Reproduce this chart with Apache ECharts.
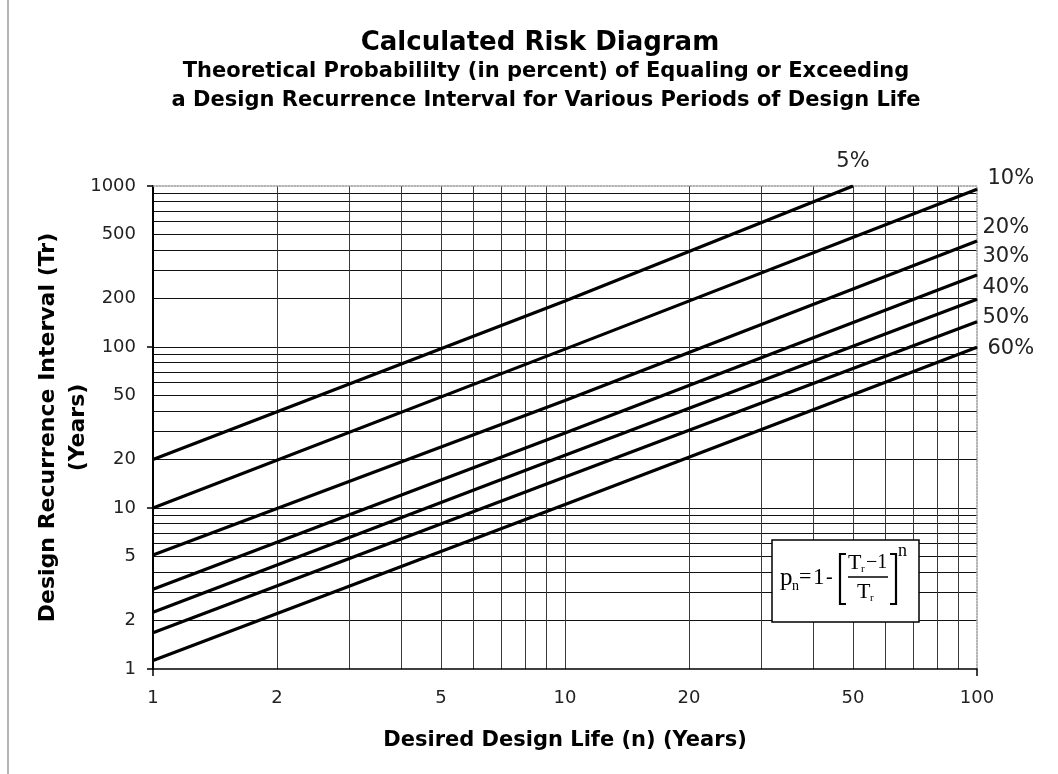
<!DOCTYPE html>
<html>
<head>
    <meta charset="utf-8">
    <title>Calculated Risk Diagram</title>
    <script src="https://cdn.jsdelivr.net/npm/echarts@6/dist/echarts.min.js"></script>
    <style>
        html, body { margin: 0; padding: 0; background: #fff; }
        #chart { width: 1058px; height: 774px; }
    </style>
</head>
<body>
    <div id="chart"></div>

    <script>
        // values: design life n (years) vs recurrence interval Tr (years)
        const riskLevels = ['5%', '10%', '20%', '30%', '40%', '50%', '60%'];
        const designLife5 = [1, 10, 50];
        const designLife = [1, 10, 100];
        const interval5 = [20, 193, 1000];
        const interval10 = [10, 97, 953];
        const interval20 = [5.1, 46.5, 455];
        const interval30 = [3.13, 29.2, 280];
        const interval40 = [2.25, 21.3, 198];
        const interval50 = [1.68, 15.6, 143.6];
        const interval60 = [1.13, 10.5, 99.5];

        // axis ticks / grid lines
        const xLabelValues = [1, 2, 5, 10, 20, 50, 100];
        const yLabelValues = [1, 2, 5, 10, 20, 50, 100, 200, 500, 1000];
        const xGridValues = [2, 3, 4, 5, 6, 7, 8, 9, 10, 20, 30, 40, 50, 60, 70, 80, 90];
        const yGridValues = [2, 3, 4, 5, 6, 7, 8, 9, 10, 20, 30, 40, 50, 60, 70, 80, 90,
                             100, 200, 300, 400, 500, 600, 700, 800, 900];
        const xMajorTicks = [1, 100];
        const yMajorTicks = [1, 10, 100, 1000];

        const lifeSets = [designLife5, designLife, designLife, designLife, designLife, designLife, designLife];
        const intervalSets = [interval5, interval10, interval20, interval30, interval40, interval50, interval60];

        // where each percent label sits relative to the end of its line
        const labelPlace = [
            { position: 'top', offset: [0, -8] },
            { position: 'right', offset: [5, -11] },
            { position: 'right', offset: [0, -14] },
            { position: 'right', offset: [0, -18] },
            { position: 'right', offset: [0, -12] },
            { position: 'right', offset: [0, -4] },
            { position: 'right', offset: [5, 1] }
        ];

        const lg = v => Math.log10(v);
        const fmt = v => String(Math.round(Math.pow(10, v)));
        const FONT = 'DejaVu Sans';
        const SERIF = 'Liberation Serif';

        const series = riskLevels.map((name, k) => ({
            name: name,
            type: 'line',
            xAxisIndex: 0,
            yAxisIndex: 0,
            symbol: 'circle',
            symbolSize: 1,
            showSymbol: true,
            itemStyle: { color: '#000' },
            lineStyle: { color: '#000', width: 3.2 },
            label: { show: false },
            z: 5,
            data: lifeSets[k].map((n, i) => {
                const pt = { value: [lg(n), lg(intervalSets[k][i])] };
                if (i === lifeSets[k].length - 1) {
                    pt.label = {
                        show: true,
                        formatter: name,
                        position: labelPlace[k].position,
                        offset: labelPlace[k].offset,
                        distance: 5,
                        fontFamily: FONT,
                        fontSize: 21,
                        color: '#222'
                    };
                }
                return pt;
            })
        }));

        const hidden = { show: false };

        function serifText(text, x, y, size) {
            return {
                type: 'text', x: x, y: y, z: 20,
                style: { text: text, fontFamily: SERIF, fontSize: size, fill: '#000', verticalAlign: 'middle' }
            };
        }

        const chart = echarts.init(document.getElementById('chart'), null, { renderer: 'canvas' });
        chart.setOption({
            animation: false,
            backgroundColor: '#fff',
            grid: { left: 153, right: 81, top: 186, bottom: 105 },
            xAxis: [
                {
                    type: 'value', position: 'bottom', min: lg(1), max: lg(100),
                    name: 'Desired Design Life (n) (Years)',
                    nameLocation: 'middle', nameGap: 61,
                    nameTextStyle: { fontFamily: FONT, fontSize: 21, fontWeight: 'bold', color: '#000' },
                    axisLine: { show: true, onZero: false, lineStyle: { color: '#000', width: 1.5 } },
                    axisTick: { show: false, customValues: xGridValues.map(lg) },
                    axisLabel: {
                        customValues: xLabelValues.map(lg), formatter: fmt, margin: 20,
                        fontFamily: FONT, fontSize: 18, color: '#222'
                    },
                    splitLine: { show: true, lineStyle: { color: '#3a3a3a', width: 1 } }
                },
                {
                    type: 'value', position: 'bottom', min: lg(1), max: lg(100),
                    axisLine: { show: false, onZero: false }, axisLabel: hidden, splitLine: hidden,
                    axisTick: { show: true, customValues: xMajorTicks.map(lg), length: 7, lineStyle: { color: '#000', width: 1.5 } }
                },
                {
                    type: 'value', position: 'top', min: lg(1), max: lg(100),
                    axisLine: { show: true, onZero: false, lineStyle: { color: '#999', type: 'dotted', width: 1.5 } },
                    axisTick: hidden, axisLabel: hidden, splitLine: hidden
                }
            ],
            yAxis: [
                {
                    type: 'value', position: 'left', min: lg(1), max: lg(1000),
                    name: 'Design Recurrence Interval (Tr)\n(Years)',
                    nameLocation: 'middle', nameGap: 60, nameRotate: 90, nameMoveOverlap: false,
                    nameTextStyle: { fontFamily: FONT, fontSize: 22, fontWeight: 'bold', color: '#000', lineHeight: 30, align: 'center' },
                    axisLine: { show: true, onZero: false, lineStyle: { color: '#000', width: 2 } },
                    axisTick: { show: false, customValues: yGridValues.map(lg) },
                    axisLabel: {
                        customValues: yLabelValues.map(lg), formatter: fmt, margin: 17,
                        fontFamily: FONT, fontSize: 18, color: '#222'
                    },
                    splitLine: { show: true, lineStyle: { color: '#111', width: 1 } }
                },
                {
                    type: 'value', position: 'left', min: lg(1), max: lg(1000),
                    axisLine: { show: false, onZero: false }, axisLabel: hidden, splitLine: hidden,
                    axisTick: { show: true, customValues: yMajorTicks.map(lg), length: 6, lineStyle: { color: '#000', width: 1.5 } }
                },
                {
                    type: 'value', position: 'right', min: lg(1), max: lg(1000),
                    axisLine: { show: true, onZero: false, lineStyle: { color: '#999', type: 'dotted', width: 1.5 } },
                    axisTick: hidden, axisLabel: hidden, splitLine: hidden
                }
            ],
            graphic: [
                // chart area border on the far left
                { type: 'line', shape: { x1: 8, y1: 0, x2: 8, y2: 774 }, style: { stroke: '#b5b5b5', lineWidth: 2 } },
                // titles
                { type: 'text', x: 540, y: 43, style: { text: 'Calculated Risk Diagram', fontFamily: FONT, fontWeight: 'bold', fontSize: 26, fill: '#000', align: 'center', verticalAlign: 'middle' } },
                { type: 'text', x: 546, y: 72, style: { text: 'Theoretical Probabililty (in percent) of Equaling or Exceeding', fontFamily: FONT, fontWeight: 'bold', fontSize: 21, fill: '#000', align: 'center', verticalAlign: 'middle' } },
                { type: 'text', x: 546, y: 101, style: { text: 'a Design Recurrence Interval for Various Periods of Design Life', fontFamily: FONT, fontWeight: 'bold', fontSize: 21, fill: '#000', align: 'center', verticalAlign: 'middle' } },
                // formula box
                { type: 'rect', z: 15, shape: { x: 772, y: 540, width: 147, height: 82 }, style: { fill: '#fff', stroke: '#000', lineWidth: 1.5 } },
                serifText('p', 780, 578, 25),
                serifText('n', 792, 586, 14),
                serifText('=', 799, 577, 22),
                serifText('1', 813, 578, 23),
                serifText('-', 826, 578, 20),
                { type: 'polyline', z: 20, shape: { points: [[846, 554], [840, 554], [840, 604], [846, 604]] }, style: { fill: null, stroke: '#000', lineWidth: 2.2 } },
                { type: 'polyline', z: 20, shape: { points: [[890, 554], [896, 554], [896, 604], [890, 604]] }, style: { fill: null, stroke: '#000', lineWidth: 2.2 } },
                serifText('T', 848, 563, 22),
                serifText('r', 861, 569, 11),
                serifText('\u22121', 866, 563, 20),
                { type: 'line', z: 20, shape: { x1: 848, y1: 577, x2: 888, y2: 577 }, style: { stroke: '#000', lineWidth: 1.4 } },
                serifText('T', 857, 592, 22),
                serifText('r', 870, 598, 11),
                serifText('n', 898, 551, 18)
            ],
            series: series
        });
    </script>
</body>
</html>
